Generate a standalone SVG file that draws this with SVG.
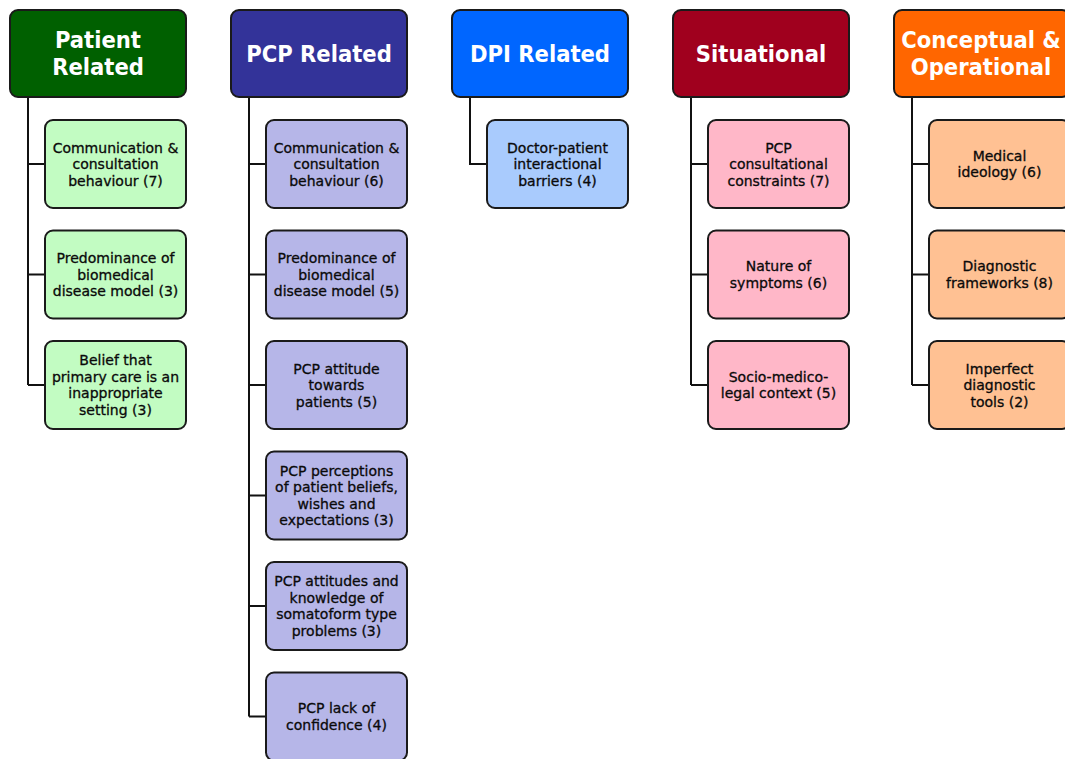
<svg xmlns="http://www.w3.org/2000/svg" width="1065" height="759" viewBox="0 0 1065 759">
<style>
.hd{stroke:#1a1a1a;stroke-width:2}
.ch{stroke:#1a1a1a;stroke-width:2}
.ht{font-family:"DejaVu Sans Condensed","DejaVu Sans",sans-serif;font-weight:bold;font-size:23.5px;fill:#fff;text-anchor:middle}
.ct{font-family:"DejaVu Sans",Verdana,sans-serif;font-size:14px;fill:#0a0a0a;stroke:#0a0a0a;stroke-width:0.3;text-anchor:middle}
.cn{fill:none;stroke:#111;stroke-width:2}
.g1{fill:#006000}.l1{fill:#c2fcc2}
.g2{fill:#333399}.l2{fill:#b6b6e8}
.g3{fill:#0066ff}.l3{fill:#a9cbfd}
.g4{fill:#a0001e}.l4{fill:#ffb7c8}
.g5{fill:#ff6600}.l5{fill:#ffc193}
</style>
<rect width="1065" height="759" fill="#fff"/>
<g id="connectors">
<path class="cn" d="M28 97V385M28 164H45M28 274.5H45M28 385H45"/>
<path class="cn" d="M249 97V716.5M249 164H266M249 274.5H266M249 385H266M249 495.5H266M249 606H266M249 716.5H266"/>
<path class="cn" d="M470 97V164H487"/>
<path class="cn" d="M691 97V385M691 164H708M691 274.5H708M691 385H708"/>
<path class="cn" d="M912 97V385M912 164H929M912 274.5H929M912 385H929"/>
</g>
<g id="h-patient"><rect class="hd g1" x="10" y="10" width="176" height="87" rx="8"/><text class="ht" x="98" y="48">Patient</text><text class="ht" x="98" y="75">Related</text></g>
<g id="h-pcp"><rect class="hd g2" x="231" y="10" width="176" height="87" rx="8"/><text class="ht" x="319" y="62">PCP Related</text></g>
<g id="h-dpi"><rect class="hd g3" x="452" y="10" width="176" height="87" rx="8"/><text class="ht" x="540" y="62">DPI Related</text></g>
<g id="h-situational"><rect class="hd g4" x="673" y="10" width="176" height="87" rx="8"/><text class="ht" x="761" y="62">Situational</text></g>
<g id="h-conceptual"><rect class="hd g5" x="894" y="10" width="176" height="87" rx="8"/><text class="ht" x="981" y="48">Conceptual &amp;</text><text class="ht" x="981" y="75">Operational</text></g>

<g id="p1"><rect class="ch l1" x="45" y="120" width="141" height="88" rx="8"/><text class="ct" x="115.5" y="152.5">Communication &amp;<tspan x="115.5" dy="16.5">consultation</tspan><tspan x="115.5" dy="16.5">behaviour (7)</tspan></text></g>
<g id="p2"><rect class="ch l1" x="45" y="230.5" width="141" height="88" rx="8"/><text class="ct" x="115.5" y="263">Predominance of<tspan x="115.5" dy="16.5">biomedical</tspan><tspan x="115.5" dy="16.5">disease model (3)</tspan></text></g>
<g id="p3"><rect class="ch l1" x="45" y="341" width="141" height="88" rx="8"/><text class="ct" x="115.5" y="365.3">Belief that<tspan x="115.5" dy="16.5">primary care is an</tspan><tspan x="115.5" dy="16.5">inappropriate</tspan><tspan x="115.5" dy="16.5">setting (3)</tspan></text></g>

<g id="c1"><rect class="ch l2" x="266" y="120" width="141" height="88" rx="8"/><text class="ct" x="336.5" y="152.5">Communication &amp;<tspan x="336.5" dy="16.5">consultation</tspan><tspan x="336.5" dy="16.5">behaviour (6)</tspan></text></g>
<g id="c2"><rect class="ch l2" x="266" y="230.5" width="141" height="88" rx="8"/><text class="ct" x="336.5" y="263">Predominance of<tspan x="336.5" dy="16.5">biomedical</tspan><tspan x="336.5" dy="16.5">disease model (5)</tspan></text></g>
<g id="c3"><rect class="ch l2" x="266" y="341" width="141" height="88" rx="8"/><text class="ct" x="336.5" y="373.5">PCP attitude<tspan x="336.5" dy="16.5">towards</tspan><tspan x="336.5" dy="16.5">patients (5)</tspan></text></g>
<g id="c4"><rect class="ch l2" x="266" y="451.5" width="141" height="88" rx="8"/><text class="ct" x="336.5" y="475.8">PCP perceptions<tspan x="336.5" dy="16.5">of patient beliefs,</tspan><tspan x="336.5" dy="16.5">wishes and</tspan><tspan x="336.5" dy="16.5">expectations (3)</tspan></text></g>
<g id="c5"><rect class="ch l2" x="266" y="562" width="141" height="88" rx="8"/><text class="ct" x="336.5" y="586.3">PCP attitudes and<tspan x="336.5" dy="16.5">knowledge of</tspan><tspan x="336.5" dy="16.5">somatoform type</tspan><tspan x="336.5" dy="16.5">problems (3)</tspan></text></g>
<g id="c6"><rect class="ch l2" x="266" y="672.5" width="141" height="88" rx="8"/><text class="ct" x="336.5" y="713">PCP lack of<tspan x="336.5" dy="16.5">confidence (4)</tspan></text></g>

<g id="d1"><rect class="ch l3" x="487" y="120" width="141" height="88" rx="8"/><text class="ct" x="557.5" y="152.5">Doctor-patient<tspan x="557.5" dy="16.5">interactional</tspan><tspan x="557.5" dy="16.5">barriers (4)</tspan></text></g>

<g id="s1"><rect class="ch l4" x="708" y="120" width="141" height="88" rx="8"/><text class="ct" x="778.5" y="152.5">PCP<tspan x="778.5" dy="16.5">consultational</tspan><tspan x="778.5" dy="16.5">constraints (7)</tspan></text></g>
<g id="s2"><rect class="ch l4" x="708" y="230.5" width="141" height="88" rx="8"/><text class="ct" x="778.5" y="271.3">Nature of<tspan x="778.5" dy="16.5">symptoms (6)</tspan></text></g>
<g id="s3"><rect class="ch l4" x="708" y="341" width="141" height="88" rx="8"/><text class="ct" x="778.5" y="381.8">Socio-medico-<tspan x="778.5" dy="16.5">legal context (5)</tspan></text></g>

<g id="o1"><rect class="ch l5" x="929" y="120" width="141" height="88" rx="8"/><text class="ct" x="999.5" y="160.8">Medical<tspan x="999.5" dy="16.5">ideology (6)</tspan></text></g>
<g id="o2"><rect class="ch l5" x="929" y="230.5" width="141" height="88" rx="8"/><text class="ct" x="999.5" y="271.3">Diagnostic<tspan x="999.5" dy="16.5">frameworks (8)</tspan></text></g>
<g id="o3"><rect class="ch l5" x="929" y="341" width="141" height="88" rx="8"/><text class="ct" x="999.5" y="373.5">Imperfect<tspan x="999.5" dy="16.5">diagnostic</tspan><tspan x="999.5" dy="16.5">tools (2)</tspan></text></g>
</svg>
